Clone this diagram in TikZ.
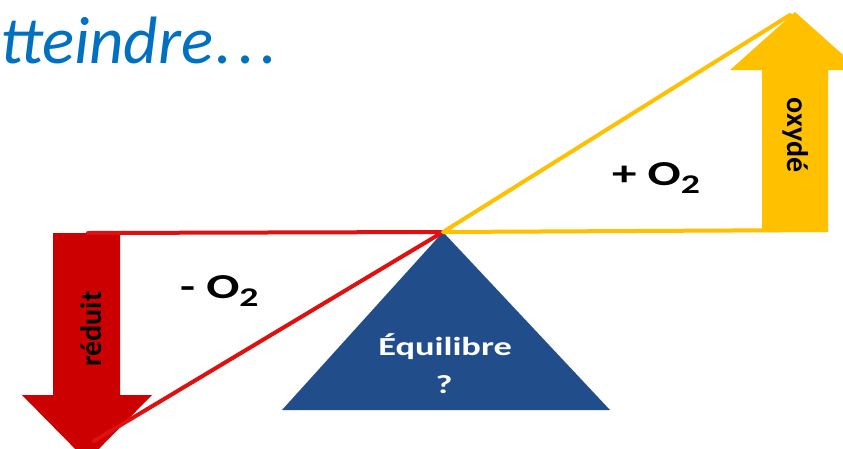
\documentclass[tikz,border=0pt]{standalone}
\usepackage{fontspec}
\usepackage{graphicx}
\setmainfont{Carlito}
\definecolor{titleblue}{RGB}{0,112,192}
\definecolor{arrowred}{RGB}{204,0,0}
\definecolor{linered}{RGB}{222,16,16}
\definecolor{gold}{RGB}{255,192,0}
\definecolor{eqblue}{RGB}{33,78,138}
\tikzset{
  redline/.style={draw=linered, line width=4pt, line cap=round, line join=round},
  goldline/.style={draw=gold, line width=4pt, line cap=round, line join=round},
  olbl/.style={font=\bfseries\fontsize{35}{40}\selectfont, text=black, inner sep=0pt, anchor=base west},
  rotlbl/.style={font=\bfseries\fontsize{30}{32}\selectfont, text=black, inner sep=0pt},
  eqlbl/.style={font=\bfseries\fontsize{26}{30}\selectfont, text=white, inner sep=0pt, anchor=base},
}
\newcommand{\sub}[1]{\raisebox{-8pt}{\fontsize{27}{27}\selectfont #1}}
\begin{document}
\begin{tikzpicture}[x=1pt,y=-1pt]
\useasboundingbox (0,0) rectangle (843,448);
\clip (0,0) rectangle (843,448);
\fill[white] (0,0) rectangle (843,448);

% title
\node[anchor=base west, inner sep=0pt, text=titleblue,
      font=\itshape\fontsize{67}{72}\selectfont] (title) at (0,63)
      {tteindre\hspace{2pt}.\hspace{6pt}.\hspace{6pt}.};

% key points
\coordinate (apex) at (443,232);
\coordinate (redL) at (88,233);
\coordinate (redTip) at (94,441);
\coordinate (goldR) at (826,230);
\coordinate (goldTip) at (790,15);

% blue triangle
\fill[eqblue] (apex) -- (610,410) -- (282,410) -- cycle;
\node[eqlbl] (eq) at (445,355) {\scalebox{1.4}[1]{Équilibre}};
\node[eqlbl] (qm) at (444,393) {\scalebox{1.4}[1]{?}};

% red arrow (down)
\fill[arrowred] (53,233) -- (120,233) -- (120,395) -- (152,395) -- (87,461)
   -- (22,395) -- (53,395) -- cycle;
\node[rotlbl, rotate=90] (reduit) at (91,329) {réduit};

% gold arrow (up)
\fill[gold] (762,232) -- (828,232) -- (828,70) -- (860,70) -- (795,12)
   -- (730,70) -- (762,70) -- cycle;
\node[rotlbl, rotate=-90] (oxyde) at (796,135) {oxydé};

% red triangle lines
\draw[redline] (redL) -- (apex) -- (redTip);
% gold triangle lines
\draw[goldline] (goldR) -- (apex) -- (goldTip);

% labels
\node[olbl] (minus) at (180,298) {\scalebox{1.4}[1]{- O\sub{2}}};
\node[olbl] (plus) at (612,185) {\scalebox{1.4}[1]{+ O\sub{2}}};
\end{tikzpicture}
\end{document}
